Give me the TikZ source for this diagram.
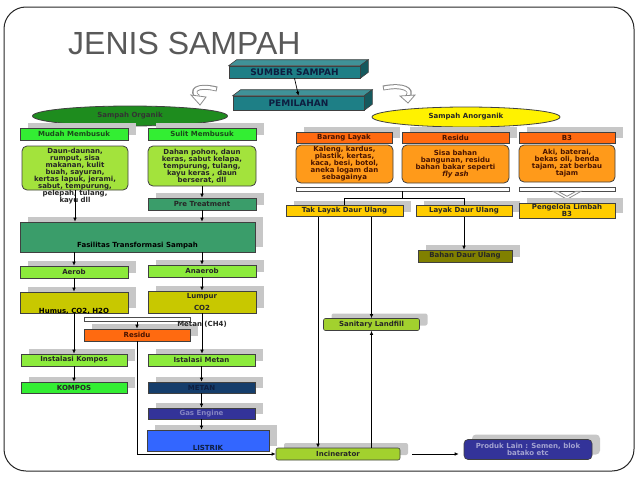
\documentclass[tikz,border=0pt]{standalone}
\usepackage{fontspec}
\setmainfont{DejaVu Sans}
\newfontfamily\judulfont{Liberation Sans}
\usetikzlibrary{arrows.meta,shapes.geometric,shadows}

\definecolor{hijauTua}{HTML}{1E8C1E}
\definecolor{hijauTerang}{HTML}{33EE33}
\definecolor{hijauMuda}{HTML}{8CEB3C}
\definecolor{limau}{HTML}{A3E33C}
\definecolor{hijauLaut}{HTML}{3A9D6A}
\definecolor{zaitun}{HTML}{C8C800}
\definecolor{zaitunTua}{HTML}{808000}
\definecolor{jingga}{HTML}{FF6A10}
\definecolor{jinggaMuda}{HTML}{FF9A1A}
\definecolor{emas}{HTML}{FFCC00}
\definecolor{kuningHijau}{HTML}{A2D12E}
\definecolor{nila}{HTML}{333399}
\definecolor{navy}{HTML}{153D6B}
\definecolor{biru}{HTML}{3366FF}
\definecolor{tosca}{HTML}{1E7F86}
\definecolor{teksHijau}{HTML}{1A4A1A}
\definecolor{teksJingga}{HTML}{4A1400}
\definecolor{teksNavy}{HTML}{0E1E40}

\newcommand\kecil{\fontsize{7}{7}\selectfont\bfseries}

\tikzset{
  kotak/.style={draw=black!75, line width=0.6pt, inner sep=0pt, align=center, font=\kecil, text=black!85},
  bayang/.style={drop shadow={shadow xshift=8pt, shadow yshift=5pt, fill=black!22, opacity=1}},
  kepala/.style={kotak, bayang, minimum width=108, minimum height=12},
  isi/.style={kotak, rounded corners=5pt, line width=0.8pt},
  tigaD/.style={kotak, fill=tosca, text=teksNavy, minimum width=131, font=\fontsize{9}{9}\selectfont\bfseries},
  panah/.style={-{Latex[length=4pt,width=3.5pt]}, line width=0.7pt},
  garis/.style={line width=0.7pt},
  kurung/.style={draw=black!70, fill=white, inner sep=0pt, line width=0.6pt, minimum height=4},
  lengkung/.style={line width=5pt, draw=black!45, line cap=butt},
  every label/.style={font=\kecil, inner sep=0pt},
}

\begin{document}
\begin{tikzpicture}[x=1pt, y=-1pt]
  \useasboundingbox (0,0) rectangle (638,479);
  \draw[rounded corners=22pt, line width=1pt, black!85] (4,7) rectangle (634,471);
  \node[font=\judulfont\fontsize{32}{36}\selectfont, text=black!65, anchor=base west, inner sep=0pt] (judul) at (68,54) {JENIS SAMPAH};

  % sumber dan pemilahan
  \node[tigaD, minimum height=12] (sumber) at (294.5,72) {SUMBER SAMPAH};
  \node[tigaD, minimum height=14] (pemilahan) at (298.5,103) {PEMILAHAN};
  \foreach \n in {sumber,pemilahan} {
    \filldraw[fill=tosca!85!white, draw=black!75, line width=0.6pt] (\n.north west) -- ++(8,-6) -- ([shift={(8,-6)}]\n.north east) -- (\n.north east) -- cycle;
    \filldraw[fill=tosca!70!black, draw=black!75, line width=0.6pt] (\n.north east) -- ([shift={(8,-6)}]\n.north east) -- ([shift={(8,-6)}]\n.south east) -- (\n.south east) -- cycle;
  }
  \draw[panah] (sumber.south) -- (pemilahan.north);

  % panah lengkung
  \draw[lengkung] (217,89) .. controls (196,84) and (190,91) .. (198,97);
  \draw[line width=3pt, white] (216,89) .. controls (196,84) and (191,91) .. (198,97);
  \filldraw[fill=white, draw=black!45, line width=0.8pt] (191,95) -- (206,97) -- (200,105) -- cycle;
  \draw[lengkung] (383,88) .. controls (404,84) and (413,90) .. (408,96);
  \draw[line width=3pt, white] (384,88) .. controls (404,84) and (412,90) .. (408,96);
  \filldraw[fill=white, draw=black!45, line width=0.8pt] (400,96) -- (415,95) -- (408,103) -- cycle;

  \node[kotak, ellipse, fill=hijauTua, minimum width=195, minimum height=20, line width=0.8pt, text=black!80] (organik) at (130,116) {Sampah Organik};
  \node[kotak, ellipse, fill=yellow, minimum width=188, minimum height=20, line width=0.8pt] (anorganik) at (466,117) {Sampah Anorganik};

  % organik
  \node[kepala, fill=hijauTerang, text=teksHijau] (mudah) at (74,134) {Mudah Membusuk};
  \node[kepala, fill=hijauTerang, text=teksHijau] (sulit) at (202,134) {Sulit Membusuk};
  \node[isi, fill=limau, minimum width=106, minimum height=44] (isiA) at (75,168) {};
  \node[font=\kecil, text=black!85, align=center, anchor=north, inner sep=0pt] (teksA) at ([yshift=-2pt]isiA.north) {Daun-daunan,\\rumput, sisa\\makanan, kulit\\buah, sayuran,\\kertas lapuk, jerami,\\sabut, tempurung,\\pelepah, tulang,\\kayu dll};
  \node[isi, fill=limau, minimum width=108, minimum height=40] (isiB) at (202,166) {Dahan pohon, daun\\keras, sabut kelapa,\\tempurung, tulang,\\kayu keras , daun\\berserat, dll};
  \node[kepala, fill=hijauLaut] (pre) at (202,204) {Pre Treatment};
  \node[kotak, bayang, fill=hijauLaut, minimum width=235, minimum height=30,
        label={[anchor=center, yshift=7pt]south:{Fasilitas Transformasi Sampah}}] (fasilitas) at (137.5,237) {};
  \node[kepala, fill=hijauMuda] (aerob) at (74,272) {Aerob};
  \node[kepala, fill=hijauMuda] (anaerob) at (202,271) {Anaerob};
  \node[kepala, fill=zaitun, minimum height=21,
        label={[anchor=center, yshift=2pt]south:{Humus, CO2, H2O}}] (humus) at (74,302.5) {};
  \node[kepala, fill=zaitun, minimum height=22] (lumpur) at (202,302) {Lumpur\\[5pt]CO2};
  \node[kurung, minimum width=106] (kurungB) at (137,319.5) {};
  \node[kepala, fill=jingga, minimum width=106, text=teksJingga] (residuB) at (137,335) {Residu};
  \node[font=\kecil, text=black!85, inner sep=0pt] (metanTeks) at (202,324) {Metan (CH4)};
  \node[kepala, fill=hijauMuda, minimum width=106] (kompos1) at (74,360) {Instalasi Kompos};
  \node[kepala, fill=hijauTerang, minimum width=106, minimum height=11] (kompos2) at (74,387.5) {KOMPOS};
  \node[kepala, fill=hijauMuda, minimum width=107] (metan1) at (201.5,360) {Istalasi Metan};
  \node[kepala, fill=navy, minimum width=107, minimum height=11, text=teksNavy] (metan2) at (201.5,387.5) {METAN};
  \node[kepala, fill=nila, minimum width=107, minimum height=11, text=nila!60!white] (gas) at (201.5,413.5) {Gas Engine};
  \node[kepala, fill=biru, minimum width=122, minimum height=21,
        label={[anchor=center, yshift=3pt, text=teksNavy]south:LISTRIK}] (listrik) at (208,440.5) {};

  \draw[panah] (isiA.south) -- (isiA.south |- fasilitas.north);
  \draw[panah] (isiB.south) -- (pre.north);
  \draw[panah] (pre.south) -- (pre.south |- fasilitas.north);
  \draw[panah] (fasilitas.south -| aerob) -- (aerob.north);
  \draw[panah] (fasilitas.south -| anaerob) -- (anaerob.north);
  \draw[panah] (aerob.south) -- (humus.north);
  \draw[panah] (anaerob.south) -- (lumpur.north);
  \draw[panah] (kurungB.south) -- (residuB.north);
  \draw[panah] (humus.south) -- (kompos1.north);
  \draw[panah] (lumpur.south) -- (lumpur.south |- metan1.north);
  \draw[panah] (kompos1.south) -- (kompos2.north);
  \draw[panah] (metan1.south) -- (metan2.north);
  \draw[panah] (metan2.south) -- (gas.north);
  \draw[panah] (gas.south) -- (gas.south |- listrik.north);

  % anorganik
  \node[kepala, fill=jingga, minimum width=96, minimum height=11, text=teksJingga] (barang) at (344,137.5) {Barang Layak};
  \node[kepala, fill=jingga, minimum width=107, minimum height=11, text=teksJingga] (residuA) at (455.5,137.5) {Residu};
  \node[kepala, fill=jingga, minimum width=96, minimum height=11, text=teksJingga] (bTiga) at (567,137.5) {B3};
  \node[isi, fill=jinggaMuda, minimum width=97, minimum height=38, text=teksJingga] (isiC) at (344.5,164) {Kaleng, kardus,\\plastik, kertas,\\kaca, besi, botol,\\aneka logam dan\\sebagainya};
  \node[isi, fill=jinggaMuda, minimum width=107, minimum height=38, text=teksJingga] (isiD) at (455.5,164) {Sisa bahan\\bangunan, residu\\bahan bakar seperti\\\textit{fly ash}};
  \node[isi, fill=jinggaMuda, minimum width=96, minimum height=37, text=teksJingga] (isiE) at (567,163.5) {Aki, baterai,\\bekas oli, benda\\tajam, zat berbau\\tajam};
  \node[kurung, minimum width=213] (kurungA) at (402.5,189) {};
  \node[kurung, minimum width=96] (kurungC) at (567,189) {};
  \filldraw[fill=white, draw=black!45, line width=0.8pt] (kurungC.south) ++(-14,0) -- ++(14,8) -- ++(14,-8) -- ++(-5,0) -- ++(-9,5) -- ++(-9,-5) -- cycle;

  \node[kepala, fill=emas, minimum width=117, minimum height=11] (takLayak) at (344.5,211) {Tak Layak Daur Ulang};
  \node[kepala, fill=emas, minimum width=96, minimum height=11] (layak) at (464,211) {Layak Daur Ulang};
  \node[kepala, fill=emas, minimum width=96, minimum height=15] (pengelola) at (567,210.5) {Pengelola Limbah\\B3};
  \node[kepala, fill=zaitunTua, minimum width=94] (bahan) at (465,256) {Bahan Daur Ulang};

  \draw[garis] (kurungA.south) -- ++(0,7) coordinate (cabang);
  \draw[garis] (takLayak.north) |- (cabang) -| (layak.north);
  \draw[panah] (layak.south) -- (layak.south |- bahan.north);

  % akhir
  \node[kotak, bayang, rounded corners=2pt, fill=kuningHijau, minimum width=96, minimum height=12] (sanitary) at (371.5,324.5) {Sanitary Landfill};
  \node[kotak, bayang, rounded corners=2pt, fill=kuningHijau, minimum width=124, minimum height=12] (incin) at (338,454) {Incinerator};
  \node[kotak, bayang, rounded corners=4pt, fill=nila, minimum width=128, minimum height=20, text=nila!45!white] (produk) at (528,449.5) {Produk Lain : Semen, blok\\batako etc};

  \draw[panah] (takLayak.south -| sanitary) -- (sanitary.north);
  \draw[panah] (incin.north -| sanitary) -- (sanitary.south);
  \draw[panah] ([xshift=-26.5pt]takLayak.south) -- ([xshift=-26.5pt]takLayak.south |- incin.north);
  \draw[panah] (residuB.south) |- (incin.west);
  \draw[panah, shorten <=12pt, shorten >=5pt] (incin.east) -- (incin.east -| produk.west);
\end{tikzpicture}
\end{document}
